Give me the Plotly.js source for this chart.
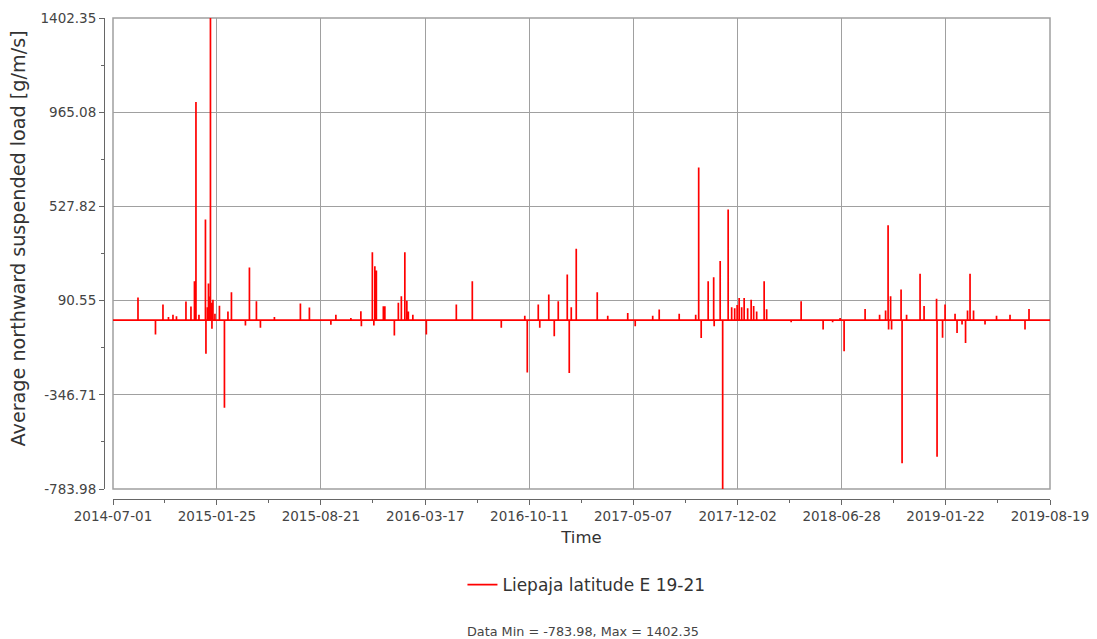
<!DOCTYPE html>
<html><head><meta charset="utf-8">
<script src="https://cdn.plot.ly/plotly-3.0.1.min.js"></script>
<style>html,body{margin:0;padding:0;background:#fff}#chart{width:1097px;height:639px}</style>
</head><body><div id="chart"></div>
<script>
const seriesName = 'Liepaja latitude E 19-21';
const xTitle = 'Time';
const yTitle = 'Average northward suspended load [g/m/s]';
const rangeStart = '2014-07-01';
const rangeEnd = '2019-08-19';
const spikeDates = [
'2014-08-20','2014-09-24','2014-10-09','2014-10-20','2014-10-29','2014-11-05','2014-11-24','2014-12-04','2014-12-11','2014-12-14',
'2014-12-20','2015-01-02','2015-01-03','2015-01-06','2015-01-08','2015-01-10','2015-01-12','2015-01-14','2015-01-15','2015-01-17',
'2015-01-21','2015-01-30','2015-02-09','2015-02-16','2015-02-23','2015-03-23','2015-03-31','2015-04-14','2015-04-22','2015-05-20',
'2015-07-11','2015-07-29','2015-09-10','2015-09-20','2015-10-20','2015-11-09','2015-11-10','2015-12-02','2015-12-05','2015-12-07',
'2015-12-10','2015-12-24','2015-12-27','2016-01-15','2016-01-23','2016-01-29','2016-02-05','2016-02-09','2016-02-12','2016-02-21',
'2016-03-19','2016-05-18','2016-06-19','2016-08-16','2016-10-02','2016-10-07','2016-10-29','2016-11-01','2016-11-19','2016-11-30',
'2016-12-08','2016-12-26','2016-12-30','2017-01-03','2017-01-13','2017-02-24','2017-03-17','2017-04-26','2017-05-11','2017-06-15',
'2017-06-28','2017-08-07','2017-09-09','2017-09-15','2017-09-20','2017-10-04','2017-10-15','2017-10-16','2017-10-28','2017-11-02',
'2017-11-13','2017-11-20','2017-11-26','2017-12-01','2017-12-05','2017-12-10','2017-12-15','2017-12-22','2017-12-29','2018-01-03',
'2018-01-09','2018-01-24','2018-01-29','2018-03-19','2018-04-08','2018-05-22','2018-06-10','2018-06-25','2018-07-03','2018-08-14',
'2018-09-12','2018-09-24','2018-09-29','2018-09-30','2018-10-04','2018-10-06','2018-10-25','2018-10-27','2018-11-05','2018-12-02',
'2018-12-10','2019-01-04','2019-01-05','2019-01-16','2019-01-21','2019-02-10','2019-02-14','2019-02-24','2019-03-03','2019-03-07',
'2019-03-12','2019-03-19','2019-04-11','2019-05-04','2019-05-31','2019-06-30','2019-07-08'
];
const spikeValues = [
105,-67,72,15,25,18,86,63,180,1012,
25,467,-156,60,170,110,1402.35,80,-40,95,
30,67,-407,40,129,-25,244,87,-35,14,
77,58,-21,25,10,41,-28,315,-25,250,
230,64,64,-72,81,111,315,90,40,25,
-67,72,180,-36,20,-243,72,-35,119,-75,
87,212,-246,60,331,129,20,33,-29,20,
49,30,25,708,-83,180,199,-29,274,-783.98,
514,60,55,70,103,60,103,55,95,65,
40,180,50,-10,87,-44,-10,10,-145,52,
25,45,440,-44,111,-44,142,-664,25,215,
65,99,-634,-82,72,30,-60,-20,-106,45,
215,45,-20,20,25,-44,52
];
const xTickVals = ['2014-07-01','2015-01-25','2015-08-21','2016-03-17','2016-10-11','2017-05-07','2017-12-02','2018-06-28','2019-01-22','2019-08-19'];
const xMinorVals = ['2014-10-13','2015-05-09','2015-12-03','2016-06-29','2017-01-23','2017-08-20','2018-03-16','2018-10-10','2019-05-06'];
const yTickVals = [-783.98,-346.71,90.55,527.82,965.08,1402.35];
const yTickText = ['-783.98','-346.71','90.55','527.82','965.08','1402.35'];
const yMinorVals = [-565.345,-128.08,309.185,746.45,1183.715];
const dataMin = -783.98, dataMax = 1402.35;

const xs = [rangeStart], ys = [0];
for (let i = 0; i < spikeDates.length; i++) {
  xs.push(spikeDates[i], spikeDates[i], spikeDates[i]);
  ys.push(0, spikeValues[i], 0);
}
xs.push(rangeEnd); ys.push(0);

const FONT = 'DejaVu Sans, Verdana, sans-serif';
const trace = {
  type: 'scatter', mode: 'lines', x: xs, y: ys, name: seriesName,
  line: {color: '#ff0000', width: 1.7, simplify: false},
  showlegend: true
};
const xDom0 = 9/946, yDom0 = 10/481;
const layout = {
  width: 1097, height: 639,
  margin: {l: 104, r: 47, t: 18, b: 140},
  paper_bgcolor: '#ffffff', plot_bgcolor: '#ffffff',
  font: {family: FONT, color: '#444'},
  showlegend: true,
  xaxis: {
    type: 'date', range: [rangeStart, rangeEnd], domain: [xDom0, 1],
    anchor: 'free', position: 0,
    tickmode: 'array', tickvals: xTickVals, ticktext: xTickVals,
    showgrid: true, gridcolor: '#a0a0a0', gridwidth: 1,
    showline: true, linecolor: '#666', linewidth: 1,
    ticks: 'outside', ticklen: 5, tickcolor: '#666',
    minor: {tickmode: 'array', tickvals: xMinorVals, ticks: 'outside', ticklen: 3, tickcolor: '#666', showgrid: false},
    zeroline: false,
    tickfont: {family: FONT, size: 13.5, color: '#444'},
    title: {text: xTitle, font: {family: FONT, size: 16.5, color: '#333'}, standoff: 8}
  },
  yaxis: {
    range: [dataMin, dataMax], domain: [yDom0, 1],
    anchor: 'free', position: 0,
    tickmode: 'array', tickvals: yTickVals, ticktext: yTickText,
    showgrid: true, gridcolor: '#a0a0a0', gridwidth: 1,
    showline: true, linecolor: '#666', linewidth: 1,
    ticks: 'outside', ticklen: 5, tickcolor: '#666',
    minor: {tickmode: 'array', tickvals: yMinorVals, ticks: 'outside', ticklen: 3, tickcolor: '#666', showgrid: false},
    zeroline: false,
    tickfont: {family: FONT, size: 13.5, color: '#444'}
  },
  legend: {
    orientation: 'h', x: 0.51, xanchor: 'center', y: -0.179, yanchor: 'middle',
    font: {family: FONT, size: 17, color: '#333'}, bgcolor: 'rgba(0,0,0,0)'
  },
  shapes: [{
    type: 'rect', xref: 'paper', yref: 'paper', x0: xDom0, x1: 1, y0: yDom0, y1: 1,
    line: {color: '#a0a0a0', width: 1.5}, fillcolor: 'rgba(0,0,0,0)', layer: 'below'
  }],
  annotations: [{
    xref: 'paper', yref: 'paper', x: -0.0899, y: 0.5416, xanchor: 'center', yanchor: 'middle',
    showarrow: false, textangle: -90, text: yTitle,
    font: {family: FONT, size: 19.2, color: '#333'}
  }, {
    xref: 'paper', yref: 'paper', x: 0.506, y: -0.2765, xanchor: 'center', yanchor: 'middle',
    showarrow: false, text: 'Data Min = ' + dataMin.toFixed(2) + ', Max = ' + dataMax.toFixed(2),
    font: {family: FONT, size: 12.8, color: '#444'}
  }]
};
Plotly.newPlot('chart', [trace], layout, {displayModeBar: false, staticPlot: true});
</script>
</body></html>
